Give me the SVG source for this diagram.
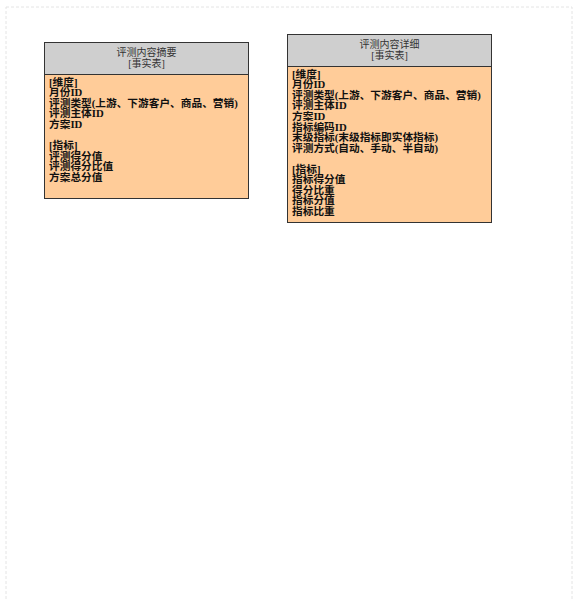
<svg xmlns="http://www.w3.org/2000/svg" width="578" height="599" viewBox="0 0 578 599">
<style>
.page{fill:#ffffff;stroke:#e4e4e4;stroke-width:1;stroke-dasharray:3 2}
.hd{fill:#cfcfcf;stroke:#333333;stroke-width:1}
.bd{fill:#ffcc99;stroke:#333333;stroke-width:1}
.ttl{font-family:"Liberation Serif","Noto Sans CJK SC",serif;font-size:10px;fill:#333333;text-anchor:middle}
.txt{font-family:"Liberation Serif","Noto Sans CJK SC",serif;font-size:10.7px;font-weight:bold;fill:#111111}
</style>
<rect x="0" y="0" width="578" height="599" fill="#ffffff"/>
<rect class="page" x="6" y="7" width="566" height="600"/>
<g id="connectors"></g>
<g id="node-summary">
<rect class="bd" x="44.5" y="42.5" width="204" height="156"/>
<rect class="hd" x="44.5" y="42.5" width="204" height="32"/>
<text class="ttl" x="146.5" y="55.5">评测内容摘要</text>
<text class="ttl" x="146.5" y="66.5">[事实表]</text>
<text class="txt" x="49" y="85.8">
<tspan x="49" dy="0">[维度]</tspan>
<tspan x="49" dy="10.55">月份ID</tspan>
<tspan x="49" dy="10.55">评测类型(上游、下游客户、商品、营销)</tspan>
<tspan x="49" dy="10.55">评测主体ID</tspan>
<tspan x="49" dy="10.55">方案ID</tspan>
<tspan x="49" dy="21.1">[指标]</tspan>
<tspan x="49" dy="10.55">评测得分值</tspan>
<tspan x="49" dy="10.55">评测得分比值</tspan>
<tspan x="49" dy="10.55">方案总分值</tspan>
</text>
</g>
<g id="node-detail">
<rect class="bd" x="287.5" y="34.5" width="204" height="188"/>
<rect class="hd" x="287.5" y="34.5" width="204" height="32"/>
<text class="ttl" x="389.5" y="47.5">评测内容详细</text>
<text class="ttl" x="389.5" y="58.5">[事实表]</text>
<text class="txt" x="292" y="77.8">
<tspan x="292" dy="0">[维度]</tspan>
<tspan x="292" dy="10.55">月份ID</tspan>
<tspan x="292" dy="10.55">评测类型(上游、下游客户、商品、营销)</tspan>
<tspan x="292" dy="10.55">评测主体ID</tspan>
<tspan x="292" dy="10.55">方案ID</tspan>
<tspan x="292" dy="10.55">指标编码ID</tspan>
<tspan x="292" dy="10.55">末级指标(末级指标即实体指标)</tspan>
<tspan x="292" dy="10.55">评测方式(自动、手动、半自动)</tspan>
<tspan x="292" dy="21.1">[指标]</tspan>
<tspan x="292" dy="10.55">指标得分值</tspan>
<tspan x="292" dy="10.55">得分比重</tspan>
<tspan x="292" dy="10.55">指标分值</tspan>
<tspan x="292" dy="10.55">指标比重</tspan>
</text>
</g>
</svg>
